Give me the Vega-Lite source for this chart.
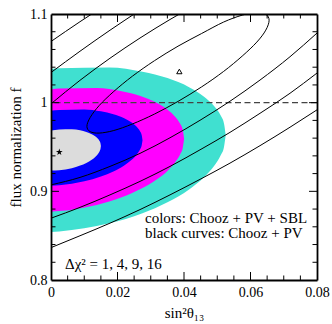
{
  "$schema": "https://vega.github.io/schema/vega-lite/v6.json",
  "width": 266,
  "height": 266,
  "autosize": "none",
  "padding": {"left": 51, "top": 14, "right": 15, "bottom": 44},
  "background": "white",
  "config": {
    "view": {"stroke": null},
    "font": "Liberation Serif",
    "axis": {
      "grid": false, "domain": false,
      "labelFont": "Liberation Serif", "titleFont": "Liberation Serif",
      "labelColor": "black", "titleColor": "black", "tickColor": "black", "domainColor": "black",
      "labelFontSize": 14, "titleFontSize": 15, "titleFontWeight": "normal", "labelFlush": false
    }
  },
  "datasets": {
    "regions": [
      {"k": 16, "x": 0, "top": 1.0380, "bot": 0.8540},
      {"k": 16, "x": 0.0025, "top": 1.0389, "bot": 0.8547},
      {"k": 16, "x": 0.01751, "top": 1.0397, "bot": 0.8639},
      {"k": 16, "x": 0.02752, "top": 1.0349, "bot": 0.8754},
      {"k": 16, "x": 0.03503, "top": 1.0277, "bot": 0.8877},
      {"k": 16, "x": 0.04153, "top": 1.0175, "bot": 0.9022},
      {"k": 16, "x": 0.04603, "top": 1.0068, "bot": 0.9159},
      {"k": 16, "x": 0.04904, "top": 0.9962, "bot": 0.9285},
      {"k": 16, "x": 0.05104, "top": 0.9854, "bot": 0.9406},
      {"k": 16, "x": 0.05204, "top": 0.9763, "bot": 0.9504},
      {"k": 16, "x": 0.05254, "top": 0.9635, "bot": 0.9635},
      {"k": 9, "x": 0, "top": 1.0149, "bot": 0.8770},
      {"k": 9, "x": 0.0025, "top": 1.0159, "bot": 0.8777},
      {"k": 9, "x": 0.01376, "top": 1.0165, "bot": 0.8847},
      {"k": 9, "x": 0.02127, "top": 1.0129, "bot": 0.8932},
      {"k": 9, "x": 0.02689, "top": 1.0075, "bot": 0.9025},
      {"k": 9, "x": 0.03177, "top": 0.9998, "bot": 0.9133},
      {"k": 9, "x": 0.03515, "top": 0.9918, "bot": 0.9236},
      {"k": 9, "x": 0.0374, "top": 0.9839, "bot": 0.9331},
      {"k": 9, "x": 0.0389, "top": 0.9758, "bot": 0.9422},
      {"k": 9, "x": 0.03965, "top": 0.9690, "bot": 0.9495},
      {"k": 9, "x": 0.04003, "top": 0.9593, "bot": 0.9593},
      {"k": 4, "x": 0, "top": 0.9908, "bot": 0.9062},
      {"k": 4, "x": 0.0025, "top": 0.9918, "bot": 0.9068},
      {"k": 4, "x": 0.01001, "top": 0.9924, "bot": 0.9113},
      {"k": 4, "x": 0.01501, "top": 0.9903, "bot": 0.9167},
      {"k": 4, "x": 0.01876, "top": 0.9870, "bot": 0.9224},
      {"k": 4, "x": 0.02202, "top": 0.9824, "bot": 0.9292},
      {"k": 4, "x": 0.02427, "top": 0.9775, "bot": 0.9356},
      {"k": 4, "x": 0.02577, "top": 0.9727, "bot": 0.9414},
      {"k": 4, "x": 0.02677, "top": 0.9677, "bot": 0.9471},
      {"k": 4, "x": 0.02727, "top": 0.9636, "bot": 0.9516},
      {"k": 4, "x": 0.02752, "top": 0.9577, "bot": 0.9577},
      {"k": 1, "x": 0, "top": 0.9685, "bot": 0.9234},
      {"k": 1, "x": 0.0025, "top": 0.9698, "bot": 0.9238},
      {"k": 1, "x": 0.00625, "top": 0.9700, "bot": 0.9261},
      {"k": 1, "x": 0.00876, "top": 0.9688, "bot": 0.9290},
      {"k": 1, "x": 0.01063, "top": 0.9670, "bot": 0.9320},
      {"k": 1, "x": 0.01226, "top": 0.9645, "bot": 0.9357},
      {"k": 1, "x": 0.01338, "top": 0.9618, "bot": 0.9391},
      {"k": 1, "x": 0.01413, "top": 0.9592, "bot": 0.9422},
      {"k": 1, "x": 0.01463, "top": 0.9565, "bot": 0.9453},
      {"k": 1, "x": 0.01488, "top": 0.9542, "bot": 0.9477},
      {"k": 1, "x": 0.01501, "top": 0.9510, "bot": 0.9510}
    ],
    "curves": [
      {"c": "4u", "i": 0, "x": 0, "f": 0.9987},
      {"c": "4u", "i": 1, "x": 0.00872, "f": 1.0252},
      {"c": "4u", "i": 2, "x": 0.01774, "f": 1.0501},
      {"c": "4u", "i": 3, "x": 0.02677, "f": 1.0729},
      {"c": "4u", "i": 4, "x": 0.03579, "f": 1.0938},
      {"c": "4u", "i": 5, "x": 0.04481, "f": 1.1130},
      {"c": "4l", "i": 0, "x": 0, "f": 0.9073},
      {"c": "4l", "i": 1, "x": 0.00872, "f": 0.9157},
      {"c": "4l", "i": 2, "x": 0.01774, "f": 0.9281},
      {"c": "4l", "i": 3, "x": 0.02677, "f": 0.9428},
      {"c": "4l", "i": 4, "x": 0.03579, "f": 0.9604},
      {"c": "4l", "i": 5, "x": 0.04481, "f": 0.9801},
      {"c": "4l", "i": 6, "x": 0.05383, "f": 1.0016},
      {"c": "4l", "i": 7, "x": 0.06286, "f": 1.0255},
      {"c": "4l", "i": 8, "x": 0.07188, "f": 1.0518},
      {"c": "4l", "i": 9, "x": 0.08, "f": 1.0785},
      {"c": "9u", "i": 0, "x": 0, "f": 1.0340},
      {"c": "9u", "i": 1, "x": 0.00872, "f": 1.0580},
      {"c": "9u", "i": 2, "x": 0.01774, "f": 1.0817},
      {"c": "9u", "i": 3, "x": 0.02677, "f": 1.1043},
      {"c": "9l", "i": 0, "x": 0, "f": 0.8697},
      {"c": "9l", "i": 1, "x": 0.00872, "f": 0.8819},
      {"c": "9l", "i": 2, "x": 0.01774, "f": 0.8960},
      {"c": "9l", "i": 3, "x": 0.02677, "f": 0.9112},
      {"c": "9l", "i": 4, "x": 0.03579, "f": 0.9281},
      {"c": "9l", "i": 5, "x": 0.04481, "f": 0.9468},
      {"c": "9l", "i": 6, "x": 0.05383, "f": 0.9665},
      {"c": "9l", "i": 7, "x": 0.06286, "f": 0.9880},
      {"c": "9l", "i": 8, "x": 0.07188, "f": 1.0106},
      {"c": "9l", "i": 9, "x": 0.08, "f": 1.0334},
      {"c": "16u", "i": 0, "x": 0, "f": 1.0690},
      {"c": "16u", "i": 1, "x": 0.00872, "f": 1.0913},
      {"c": "16u", "i": 2, "x": 0.01774, "f": 1.1133},
      {"c": "16l", "i": 0, "x": 0, "f": 0.8365},
      {"c": "16l", "i": 1, "x": 0.00872, "f": 0.8499},
      {"c": "16l", "i": 2, "x": 0.01774, "f": 0.8641},
      {"c": "16l", "i": 3, "x": 0.02677, "f": 0.8794},
      {"c": "16l", "i": 4, "x": 0.03579, "f": 0.8960},
      {"c": "16l", "i": 5, "x": 0.04481, "f": 0.9135},
      {"c": "16l", "i": 6, "x": 0.05383, "f": 0.9318},
      {"c": "16l", "i": 7, "x": 0.06286, "f": 0.9515},
      {"c": "16l", "i": 8, "x": 0.07188, "f": 0.9723},
      {"c": "16l", "i": 9, "x": 0.08, "f": 0.9919}
    ],
    "ellipse": [
      {"i": 0, "x": 0.0656, "f": 1.0930},
      {"i": 1, "x": 0.0646, "f": 1.0818},
      {"i": 2, "x": 0.0619, "f": 1.0683},
      {"i": 3, "x": 0.0575, "f": 1.0525},
      {"i": 4, "x": 0.0519, "f": 1.0352},
      {"i": 5, "x": 0.0453, "f": 1.0178},
      {"i": 6, "x": 0.0382, "f": 1.0014},
      {"i": 7, "x": 0.0311, "f": 0.9871},
      {"i": 8, "x": 0.0245, "f": 0.9760},
      {"i": 9, "x": 0.0189, "f": 0.9686},
      {"i": 10, "x": 0.0145, "f": 0.9657},
      {"i": 11, "x": 0.0118, "f": 0.9673},
      {"i": 12, "x": 0.0108, "f": 0.9733},
      {"i": 13, "x": 0.0118, "f": 0.9834},
      {"i": 14, "x": 0.0145, "f": 0.9968},
      {"i": 15, "x": 0.0189, "f": 1.0127},
      {"i": 16, "x": 0.0245, "f": 1.0299},
      {"i": 17, "x": 0.0311, "f": 1.0473},
      {"i": 18, "x": 0.0382, "f": 1.0637},
      {"i": 19, "x": 0.0453, "f": 1.0780},
      {"i": 20, "x": 0.0519, "f": 1.0909},
      {"i": 21, "x": 0.0575, "f": 1.0987},
      {"i": 22, "x": 0.0619, "f": 1.1018},
      {"i": 23, "x": 0.0646, "f": 1.0997}
    ],
    "markers": [
      {"kind": "star", "x": 0.0025, "f": 0.9442},
      {"kind": "tri", "x": 0.0386, "f": 1.0352}
    ],
    "labels": [
      {"label": "colors: Chooz + PV + SBL", "x": 0.02827, "f": 0.8640},
      {"label": "black curves: Chooz + PV", "x": 0.02827, "f": 0.8471},
      {"label": "Δχ² = 1, 4, 9, 16", "x": 0.00421, "f": 0.8128}
    ],
    "xticks": [
      {"v": 0.005, "major": false}, {"v": 0.01, "major": false}, {"v": 0.015, "major": false},
      {"v": 0.02, "major": true},
      {"v": 0.025, "major": false}, {"v": 0.03, "major": false}, {"v": 0.035, "major": false},
      {"v": 0.04, "major": true},
      {"v": 0.045, "major": false}, {"v": 0.05, "major": false}, {"v": 0.055, "major": false},
      {"v": 0.06, "major": true},
      {"v": 0.065, "major": false}, {"v": 0.07, "major": false}, {"v": 0.075, "major": false}
    ],
    "yticks": [
      {"v": 0.82, "major": false}, {"v": 0.84, "major": false}, {"v": 0.86, "major": false}, {"v": 0.88, "major": false},
      {"v": 0.9, "major": true},
      {"v": 0.92, "major": false}, {"v": 0.94, "major": false}, {"v": 0.96, "major": false}, {"v": 0.98, "major": false},
      {"v": 1.0, "major": true},
      {"v": 1.02, "major": false}, {"v": 1.04, "major": false}, {"v": 1.06, "major": false}, {"v": 1.08, "major": false}
    ],
    "ref": [{"f": 1}]
  },
  "layer": [
    {
      "data": {"name": "regions"},
      "transform": [{"filter": "datum.k == 16"}],
      "mark": {"type": "area", "color": "#40E0D0", "clip": true, "interpolate": "monotone"},
      "encoding": {
        "x": {"field": "x", "type": "quantitative", "scale": {"domain": [0, 0.08], "nice": false, "zero": false},
          "axis": {"orient": "bottom", "values": [0, 0.02, 0.04, 0.06, 0.08], "zindex": 2, "ticks": true, "tickSize": 0, "labelPadding": 5, "format": "~g",
            "domain": true, "domainWidth": 1.8, "title": "sin²θ₁₃", "titlePadding": 6}},
        "y": {"field": "top", "type": "quantitative", "stack": null, "scale": {"domain": [0.8, 1.1], "nice": false, "zero": false},
          "axis": {"orient": "left", "values": [0.8, 0.9, 1, 1.1], "zindex": 2, "ticks": true, "tickSize": 0, "labelPadding": 4, "format": "~g",
            "domain": true, "domainWidth": 1.8, "title": "flux normalization f", "titlePadding": 6}},
        "y2": {"field": "bot"}
      }
    },
    {
      "data": {"name": "regions"},
      "transform": [{"filter": "datum.k == 9"}],
      "mark": {"type": "area", "color": "#FF00FF", "clip": true, "interpolate": "monotone"},
      "encoding": {
        "x": {"field": "x", "type": "quantitative", "scale": {"domain": [0, 0.08], "nice": false, "zero": false},
          "axis": {"orient": "top", "zindex": 2, "ticks": false, "labels": false, "title": null, "domain": true, "domainWidth": 1.8}},
        "y": {"field": "top", "type": "quantitative", "stack": null, "scale": {"domain": [0.8, 1.1], "nice": false, "zero": false},
          "axis": {"orient": "right", "zindex": 2, "ticks": false, "labels": false, "title": null, "domain": true, "domainWidth": 1.8}},
        "y2": {"field": "bot"}
      }
    },
    {
      "data": {"name": "regions"},
      "transform": [{"filter": "datum.k == 4"}],
      "mark": {"type": "area", "color": "#0000FF", "clip": true, "interpolate": "monotone"},
      "encoding": {
        "x": {"field": "x", "type": "quantitative", "scale": {"domain": [0, 0.08], "nice": false, "zero": false}, "axis": null},
        "y": {"field": "top", "type": "quantitative", "stack": null, "scale": {"domain": [0.8, 1.1], "nice": false, "zero": false}, "axis": null},
        "y2": {"field": "bot"}
      }
    },
    {
      "data": {"name": "regions"},
      "transform": [{"filter": "datum.k == 1"}],
      "mark": {"type": "area", "color": "#DCDCDC", "clip": true, "interpolate": "monotone"},
      "encoding": {
        "x": {"field": "x", "type": "quantitative", "scale": {"domain": [0, 0.08], "nice": false, "zero": false}, "axis": null},
        "y": {"field": "top", "type": "quantitative", "stack": null, "scale": {"domain": [0.8, 1.1], "nice": false, "zero": false}, "axis": null},
        "y2": {"field": "bot"}
      }
    },
    {
      "data": {"name": "ref"},
      "mark": {"type": "rule", "color": "#444444", "strokeWidth": 1.3, "strokeDash": [6, 3.5]},
      "encoding": {
        "y": {"field": "f", "type": "quantitative", "scale": {"domain": [0.8, 1.1], "nice": false, "zero": false}, "axis": null}
      }
    },
    {
      "data": {"name": "curves"},
      "mark": {"type": "line", "color": "black", "strokeWidth": 1, "clip": true, "interpolate": "monotone"},
      "encoding": {
        "x": {"field": "x", "type": "quantitative", "scale": {"domain": [0, 0.08], "nice": false, "zero": false}, "axis": null},
        "y": {"field": "f", "type": "quantitative", "scale": {"domain": [0.8, 1.1], "nice": false, "zero": false}, "axis": null},
        "detail": {"field": "c"},
        "order": {"field": "i", "type": "quantitative"}
      }
    },
    {
      "data": {"name": "ellipse"},
      "mark": {"type": "line", "color": "black", "strokeWidth": 1, "clip": true, "interpolate": "cardinal-closed"},
      "encoding": {
        "x": {"field": "x", "type": "quantitative", "scale": {"domain": [0, 0.08], "nice": false, "zero": false}, "axis": null},
        "y": {"field": "f", "type": "quantitative", "scale": {"domain": [0.8, 1.1], "nice": false, "zero": false}, "axis": null},
        "order": {"field": "i", "type": "quantitative"}
      }
    },
    {
      "data": {"name": "xticks"},
      "transform": [{"filter": "!datum.major"}],
      "layer": [
        {"mark": {"type": "rule", "color": "black", "strokeWidth": 1},
         "encoding": {"x": {"field": "v", "type": "quantitative", "axis": null}, "y": {"datum": 0.8, "axis": null}, "y2": {"datum": 0.80508}}},
        {"mark": {"type": "rule", "color": "black", "strokeWidth": 1},
         "encoding": {"x": {"field": "v", "type": "quantitative", "axis": null}, "y": {"datum": 1.1, "axis": null}, "y2": {"datum": 1.09492}}}
      ]
    },
    {
      "data": {"name": "xticks"},
      "transform": [{"filter": "datum.major"}],
      "layer": [
        {"mark": {"type": "rule", "color": "black", "strokeWidth": 1},
         "encoding": {"x": {"field": "v", "type": "quantitative", "axis": null}, "y": {"datum": 0.8, "axis": null}, "y2": {"datum": 0.80903}}},
        {"mark": {"type": "rule", "color": "black", "strokeWidth": 1},
         "encoding": {"x": {"field": "v", "type": "quantitative", "axis": null}, "y": {"datum": 1.1, "axis": null}, "y2": {"datum": 1.09097}}}
      ]
    },
    {
      "data": {"name": "yticks"},
      "transform": [{"filter": "!datum.major"}],
      "layer": [
        {"mark": {"type": "rule", "color": "black", "strokeWidth": 1},
         "encoding": {"y": {"field": "v", "type": "quantitative", "axis": null}, "x": {"datum": 0, "axis": null}, "x2": {"datum": 0.00135}}},
        {"mark": {"type": "rule", "color": "black", "strokeWidth": 1},
         "encoding": {"y": {"field": "v", "type": "quantitative", "axis": null}, "x": {"datum": 0.08, "axis": null}, "x2": {"datum": 0.07865}}}
      ]
    },
    {
      "data": {"name": "yticks"},
      "transform": [{"filter": "datum.major"}],
      "layer": [
        {"mark": {"type": "rule", "color": "black", "strokeWidth": 1},
         "encoding": {"y": {"field": "v", "type": "quantitative", "axis": null}, "x": {"datum": 0, "axis": null}, "x2": {"datum": 0.0024}}},
        {"mark": {"type": "rule", "color": "black", "strokeWidth": 1},
         "encoding": {"y": {"field": "v", "type": "quantitative", "axis": null}, "x": {"datum": 0.08, "axis": null}, "x2": {"datum": 0.0776}}}
      ]
    },
    {
      "data": {"name": "markers"},
      "transform": [{"filter": "datum.kind == 'star'"}],
      "mark": {"type": "point", "shape": "M0,-1L0.2245,-0.309L0.951,-0.309L0.363,0.118L0.588,0.809L0,0.382L-0.588,0.809L-0.363,0.118L-0.951,-0.309L-0.2245,-0.309Z",
        "filled": true, "color": "black", "size": 50, "opacity": 1},
      "encoding": {
        "x": {"field": "x", "type": "quantitative", "axis": null},
        "y": {"field": "f", "type": "quantitative", "axis": null}
      }
    },
    {
      "data": {"name": "markers"},
      "transform": [{"filter": "datum.kind == 'tri'"}],
      "mark": {"type": "point", "shape": "triangle-up", "filled": false, "color": "black", "strokeWidth": 1, "size": 28, "opacity": 1},
      "encoding": {
        "x": {"field": "x", "type": "quantitative", "axis": null},
        "y": {"field": "f", "type": "quantitative", "axis": null}
      }
    },
    {
      "data": {"name": "labels"},
      "mark": {"type": "text", "align": "left", "baseline": "alphabetic", "font": "Liberation Serif", "fontSize": 15, "color": "black"},
      "encoding": {
        "x": {"field": "x", "type": "quantitative", "axis": null},
        "y": {"field": "f", "type": "quantitative", "axis": null},
        "text": {"field": "label"}
      }
    }
  ],
  "resolve": {"axis": {"x": "independent", "y": "independent"}}
}
